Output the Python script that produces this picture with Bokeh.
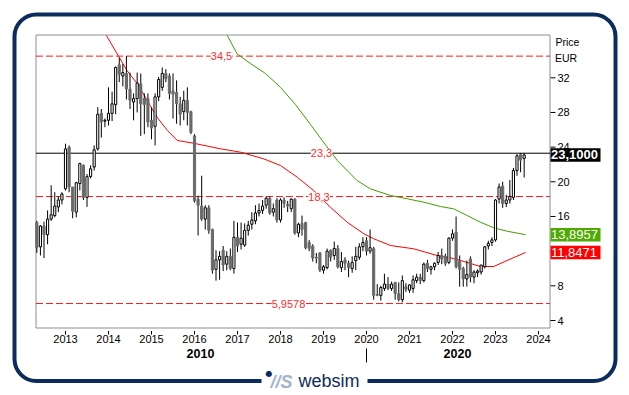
from bokeh.plotting import figure
from bokeh.models import Range1d, Label, BoxAnnotation, ColumnDataSource
from bokeh.core.properties import value
from bokeh.embed import file_html
from bokeh.resources import INLINE

# ---------------- data (monthly candles, first = May 2012) ----------------
first_year, first_month = 2012, 5
opens = [15.3, 12.5, 14.9, 13.9, 15.7, 16.1, 17.1, 17.9, 19.2, 24.0, 19.4, 16.5, 19.8, 21.9, 18.2, 20.6,
         21.7, 23.8, 27.9, 27.0, 27.1, 27.9, 28.9, 33.5, 32.2, 32.5, 30.7, 29.2, 29.6, 31.3, 29.6, 29.6,
         27.1, 26.4, 29.8, 30.9, 32.5, 32.2, 30.5, 30.3, 29.0, 28.1, 29.4, 28.1, 25.3, 18.0, 17.2, 15.7,
         17.0, 14.5, 9.9, 11.0, 12.1, 10.5, 11.4, 10.0, 13.6, 12.8, 12.7, 14.4, 15.1, 15.5, 16.4, 16.7,
         17.3, 18.1, 16.5, 17.9, 15.6, 17.9, 17.4, 16.9, 18.0, 14.1, 15.2, 15.3, 13.0, 12.6, 11.3, 11.8,
         9.8, 10.1, 12.1, 11.5, 12.3, 10.1, 11.0, 10.6, 10.0, 10.9, 11.3, 12.5, 13.2, 12.0, 12.3, 7.0,
         6.9, 7.7, 8.2, 7.7, 8.4, 7.1, 6.4, 7.9, 7.5, 7.7, 8.6, 9.0, 8.6, 10.6, 9.9, 10.2,
         10.7, 11.5, 11.4, 10.7, 13.5, 14.2, 10.9, 10.0, 8.8, 11.1, 9.0, 9.5, 9.6, 10.2, 12.6, 13.0,
         13.3, 18.0, 19.5, 17.5, 17.9, 18.2, 21.3, 23.15, 22.7]
highs = [15.5, 15.0, 15.4, 16.7, 19.6, 18.8, 18.3, 18.8, 24.4, 24.2, 19.4, 20.0, 22.2, 22.0, 20.9, 21.9,
         24.2, 28.6, 28.4, 27.3, 30.9, 30.4, 33.3, 34.3, 33.6, 34.5, 32.6, 30.2, 32.6, 32.5, 30.2, 30.2,
         28.6, 30.2, 32.1, 33.2, 33.0, 32.5, 32.5, 31.7, 29.8, 30.5, 30.9, 28.2, 25.5, 18.4, 20.7, 17.3,
         17.3, 14.6, 12.1, 12.0, 12.6, 12.0, 12.3, 15.5, 15.3, 15.3, 15.2, 15.5, 16.5, 17.3, 17.5, 17.9,
         18.3, 18.3, 17.5, 18.1, 18.1, 18.2, 17.8, 18.1, 18.1, 15.3, 16.1, 15.4, 13.3, 12.8, 11.8, 11.9,
         10.4, 12.3, 12.2, 13.1, 12.7, 11.9, 11.3, 10.9, 11.4, 12.5, 12.9, 13.6, 13.6, 14.5, 12.5, 8.2,
         8.0, 9.4, 9.0, 8.5, 8.4, 8.4, 9.2, 8.3, 8.2, 9.2, 9.4, 9.4, 10.7, 11.0, 10.3, 10.7,
         11.9, 12.3, 11.7, 13.6, 14.5, 16.0, 11.5, 10.2, 10.9, 11.4, 9.8, 9.9, 10.4, 12.6, 13.2, 13.6,
         18.0, 19.8, 20.0, 18.5, 20.2, 21.6, 23.2, 23.3, 23.3]
lows = [11.8, 11.5, 11.2, 12.8, 15.5, 15.9, 16.5, 17.4, 19.0, 18.8, 15.8, 15.9, 19.0, 17.9, 17.1, 20.4,
        21.3, 23.6, 25.1, 26.3, 26.5, 27.0, 27.8, 31.5, 31.0, 29.5, 28.4, 27.1, 28.0, 25.3, 25.5, 26.3,
        24.9, 24.2, 29.3, 30.5, 31.5, 29.5, 27.3, 26.7, 26.5, 27.1, 26.5, 25.5, 17.6, 13.8, 15.5, 14.5,
        14.0, 9.4, 8.6, 8.7, 9.7, 9.8, 9.8, 9.4, 11.9, 12.2, 12.5, 13.8, 14.5, 15.1, 16.0, 16.3,
        16.9, 16.2, 16.0, 15.3, 15.3, 17.0, 16.5, 16.5, 13.9, 13.6, 13.8, 12.2, 12.0, 10.8, 10.6, 9.6,
        9.4, 9.9, 10.8, 11.0, 10.0, 9.6, 9.8, 9.0, 9.5, 9.8, 11.0, 12.0, 11.5, 11.7, 6.4, 6.8,
        6.3, 7.4, 7.5, 7.4, 6.4, 6.2, 6.1, 7.3, 7.2, 7.2, 8.3, 8.2, 8.4, 9.6, 9.3, 9.8,
        10.4, 10.5, 10.3, 10.5, 13.2, 10.0, 7.9, 7.9, 7.9, 8.4, 8.3, 9.0, 9.3, 10.0, 12.2, 12.6,
        13.1, 17.5, 17.0, 17.1, 17.5, 17.9, 20.7, 21.1, 20.5]
closes = [12.4, 14.9, 13.9, 15.7, 16.2, 17.2, 17.9, 18.6, 23.8, 19.4, 16.6, 19.9, 22.1, 18.2, 20.6, 21.5,
          23.7, 27.8, 26.9, 27.1, 27.9, 29.0, 33.2, 32.4, 32.6, 30.7, 29.4, 29.6, 31.4, 29.0, 28.9, 26.9,
          26.2, 29.8, 31.8, 32.5, 31.9, 30.2, 30.1, 29.0, 27.8, 29.4, 28.0, 25.7, 17.8, 17.3, 15.7, 17.0,
          14.4, 9.8, 11.0, 11.4, 10.4, 11.4, 10.0, 13.6, 12.6, 13.5, 14.4, 15.0, 15.6, 16.4, 16.7, 17.2,
          18.1, 16.4, 16.9, 15.6, 17.9, 17.5, 17.2, 18.0, 14.1, 15.1, 14.5, 12.4, 12.3, 11.2, 11.2, 9.8,
          10.2, 12.0, 11.3, 12.3, 10.2, 10.8, 10.6, 10.1, 10.7, 11.4, 12.5, 13.0, 12.0, 12.4, 6.9, 6.9,
          7.8, 8.2, 7.7, 8.2, 7.1, 6.4, 8.6, 7.6, 8.1, 8.7, 9.0, 8.6, 10.5, 10.0, 10.2, 10.6,
          11.5, 11.1, 10.6, 13.5, 14.0, 10.2, 9.9, 8.8, 9.3, 9.0, 9.6, 9.7, 10.4, 12.5, 12.9, 13.3,
          17.9, 19.4, 17.5, 17.9, 18.3, 21.3, 23.0, 22.5, 23.1]

# moving averages (year, value); they enter the chart at its top edge
ma_red_x = [2013.95, 2014.20, 2014.43, 2014.67, 2014.90, 2015.13, 2015.37, 2015.60, 2015.98,
            2016.60, 2017.07, 2017.61, 2018.00, 2018.39, 2018.77, 2019.16, 2019.55, 2019.94, 2020.17,
            2020.56, 2021.10, 2021.64, 2021.95, 2022.19, 2022.65, 2022.96, 2023.27, 2023.70]
ma_red_y = [36.9, 34.77, 32.84, 31.31, 29.38, 27.45, 25.92, 24.77, 24.45,
            23.81, 23.42, 22.65, 21.88, 20.53, 19.0, 17.07, 15.34, 14.0, 13.43,
            12.65, 12.27, 11.5, 11.23, 10.92, 10.23, 10.23, 10.92, 11.85]
ma_green_x = [2016.76, 2016.99, 2017.30, 2017.65, 2018.00, 2018.35, 2018.70, 2018.97, 2019.32,
              2019.78, 2020.09, 2020.56, 2020.95, 2021.33, 2021.72, 2022.03, 2022.34, 2022.65, 2022.96,
              2023.27, 2023.70]
ma_green_y = [36.9, 34.77, 33.65, 32.5, 30.9, 28.9, 26.6, 24.77, 22.46,
              20.15, 19.19, 18.42, 18.04, 17.65, 17.15, 16.88, 16.11, 15.34, 14.69,
              14.30, 13.90]

levels = [34.5, 18.3, 5.9578]
level_texts = ["34,5", "18,3", "5,9578"]
ref_level = 23.3
ref_text = "23,3"
last_price, last_text = 23.1, "23,1000"
ma_green_last, ma_green_text = 13.8957, "13,8957"
ma_red_last, ma_red_text = 11.8471, "11,8471"
year_ticks = list(range(2013, 2025))
price_ticks = [4, 8, 12, 16, 20, 24, 28, 32]
decade_texts = ["2010", "2020"]

# ---------------- layout (canvas pixel -> data helpers) ----------------
FONT = "Liberation Sans"
NAVY = "#0c2c5c"
W, H = 628, 394
PX_PER_YEAR = 43.0
PX_PER_UNIT = 8.668


def DX(px):
    return 2013 + (px - 65) / PX_PER_YEAR


def DY(py):
    return 4 + (320 - py) / PX_PER_UNIT


BL, BR, BT, BB = DX(35.5), DX(549.5), DY(34.5), DY(327.5)   # inner chart box

p = figure(width=W, height=H, x_range=Range1d(DX(0), DX(W)), y_range=Range1d(DY(H), DY(0)),
           output_backend="svg", toolbar_location=None, x_axis_location=None, y_axis_location=None,
           min_border=0)
p.grid.visible = False
p.outline_line_color = None
p.background_fill_color = "white"
p.border_fill_color = "white"

# chart box
p.add_layout(BoxAnnotation(left=BL, right=BR, top=BT, bottom=BB, fill_color=None, fill_alpha=0,
                           line_color="#8c8c9a", line_alpha=1, line_width=1, level="underlay"))

# horizontal levels
n = len(levels)
p.segment(x0=[BL] * n, x1=[BR] * n, y0=levels, y1=levels, line_color="#ff1a1a", line_width=1, line_dash="7 3")
p.segment(x0=[BL], x1=[BR], y0=[ref_level], y1=[ref_level], line_color="black", line_width=1)

# moving averages
p.line(ma_red_x, ma_red_y, line_color="#ff0000", line_width=1)
p.line(ma_green_x, ma_green_y, line_color="#3f9f00", line_width=1)

# candles
xs = [first_year + (first_month - 1 + i) / 12 for i in range(len(opens))]
up = dict(x=[], top=[], bottom=[])
dn = dict(x=[], top=[], bottom=[])
for x, o, c in zip(xs, opens, closes):
    d = up if c >= o else dn
    d["x"].append(x)
    d["top"].append(max(o, c))
    d["bottom"].append(min(o, c))
p.segment(x0=xs, y0=lows, x1=xs, y1=highs, line_color="black", line_width=1)
p.vbar(x="x", top="top", bottom="bottom", width=0.05, source=ColumnDataSource(dn),
       fill_color="#6a6a6a", line_color="#6a6a6a", line_width=1)
p.vbar(x="x", top="top", bottom="bottom", width=0.05, source=ColumnDataSource(up),
       fill_color="white", line_color="black", line_width=1)

# level labels (white background cuts the line)
for lv, txt, cx in zip(levels + [ref_level], level_texts + [ref_text], [221, 318.5, 288, 321]):
    p.add_layout(Label(x=DX(cx), y=lv, text=txt, text_align="center", text_baseline="middle",
                       text_font=FONT, text_font_size="11px", text_color="#ff2e2e",
                       background_fill_color="white"))

# price scale (right)
m = len(price_ticks)
p.segment(x0=[DX(550)] * m, x1=[DX(555)] * m, y0=price_ticks, y1=price_ticks, line_color="black", line_width=1)
p.text(x=[DX(557)] * m, y=price_ticks, text=[str(t) for t in price_ticks], text_baseline="middle",
       text_align="left", text_font=value(FONT), text_font_size="11px", text_color="black")

# time scale (bottom)
k = len(year_ticks)
p.segment(x0=year_ticks, x1=year_ticks, y0=[DY(330.5)] * k, y1=[DY(334)] * k, line_color="black", line_width=1)
p.text(x=year_ticks, y=[DY(334.5)] * k, text=[str(t) for t in year_ticks], text_baseline="top",
       text_align="center", text_font=value(FONT), text_font_size="11px", text_color="black")

# value boxes on the price axis
box_h = 13.5 / PX_PER_UNIT
for val, txt, col in [(last_price, last_text, "black"), (ma_green_last, ma_green_text, "#4caa00"),
                      (ma_red_last, ma_red_text, "#ff0000")]:
    p.add_layout(BoxAnnotation(left=DX(550), right=DX(600), bottom=val - box_h / 2, top=val + box_h / 2,
                               fill_color=col, fill_alpha=1, line_color=None))
    p.add_layout(Label(x=DX(550.5), y=val, text=txt, text_align="left", text_baseline="middle",
                       text_font=FONT, text_font_size="13px",
                       text_font_style="bold" if col == "black" else "normal", text_color="white"))

# axis captions
p.add_layout(Label(x=DX(555), y=DY(41), text="Price", text_baseline="middle",
                   text_font=FONT, text_font_size="10.5px", text_color="black"))
p.add_layout(Label(x=DX(554.5), y=DY(57), text="EUR", text_baseline="middle",
                   text_font=FONT, text_font_size="10.5px", text_color="black"))
for txt, cx in zip(decade_texts, [200, 457]):
    p.add_layout(Label(x=DX(cx), y=DY(353), text=txt, text_align="center", text_baseline="middle",
                       text_font=FONT, text_font_size="12.5px", text_font_style="bold", text_color="black"))
p.add_layout(BoxAnnotation(left=DX(365.5), right=DX(366.5), top=DY(348), bottom=DY(362),
                           fill_color="black", fill_alpha=1, line_color=None))

# outer rounded frame and logo
p.add_layout(BoxAnnotation(left=DX(14), right=DX(615), top=DY(14), bottom=DY(380.5),
                           fill_color=None, fill_alpha=0, line_color=NAVY, line_alpha=1, line_width=4,
                           border_radius=22))
p.add_layout(BoxAnnotation(left=DX(261), right=DX(367), top=DY(372), bottom=DY(390),
                           fill_color="white", fill_alpha=1, line_color=None))
p.add_layout(Label(x=DX(270), y=DY(381), text="//S", text_baseline="middle",
                   text_font=FONT, text_font_size="18px", text_font_style="bold italic", text_color="#a3b4cf"))
p.add_layout(Label(x=DX(265), y=DY(372.5), text="\u25CF", text_baseline="middle",
                   text_font="DejaVu Sans", text_font_size="8px", text_color=NAVY))
p.add_layout(Label(x=DX(298), y=DY(380), text="websim", text_baseline="middle",
                   text_font=FONT, text_font_size="18px", text_color=NAVY))

open("out.html", "w").write(file_html(p, INLINE))
